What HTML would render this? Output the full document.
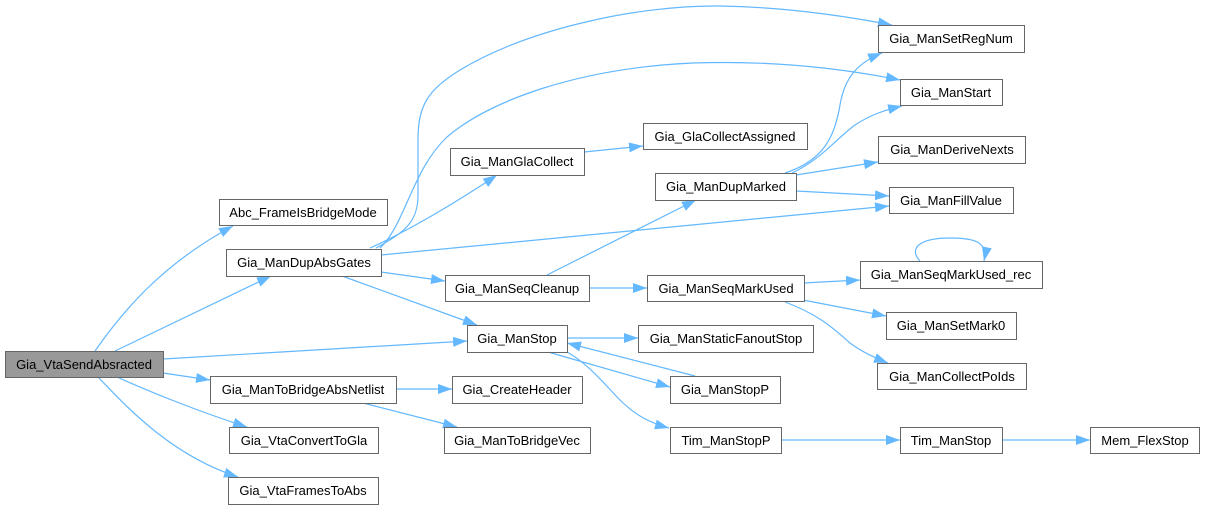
<!DOCTYPE html>
<html><head><meta charset="utf-8"><style>
html,body{margin:0;padding:0;background:#fff;}
svg{display:block;}
text{font-family:"Liberation Sans",Arial,sans-serif;font-size:13px;fill:#000;text-anchor:middle;}
.n{fill:#fff;stroke:#666;stroke-width:1;}
.r{fill:#999;stroke:#666;stroke-width:1;}
.e{fill:none;stroke:#63b8ff;stroke-width:1.2;marker-end:url(#a);}
</style></head><body>
<svg width="1205" height="509" viewBox="0 0 1205 509" xmlns="http://www.w3.org/2000/svg">
<defs>
<marker id="a" viewBox="0 0 14 10" refX="14" refY="5" markerWidth="14" markerHeight="10" markerUnits="userSpaceOnUse" orient="auto">
<path d="M0,0 L14,5 L0,10 z" fill="#63b8ff"/>
</marker>
</defs>
<!-- edges -->
<path class="e" d="M95,351 C120,315 160,265 233,226"/>
<path class="e" d="M115,351 L271,276"/>
<path class="e" d="M163,359 L467,341"/>
<path class="e" d="M163,373 L210,380"/>
<path class="e" d="M117,377 C150,392 200,412 247,427"/>
<path class="e" d="M98,377 C125,405 170,455 238,477"/>
<path class="e" d="M376,248 C405,232 418,222 418,195 L418,140 C418,105 428,90 460,70 C530,28 640,5 720,6 C780,7 840,15 892,25"/>
<path class="e" d="M380,248 C405,225 412,170 447,137 C490,100 580,68 693,63 C780,60 850,70 900,80"/>
<path class="e" d="M370,248 C410,230 460,200 497,175"/>
<path class="e" d="M381,255 L889,206"/>
<path class="e" d="M381,272 L445,281"/>
<path class="e" d="M342,276 L477,325"/>
<path class="e" d="M584,152 L643,146"/>
<path class="e" d="M547,275 L696,200"/>
<path class="e" d="M589,288 L647,288"/>
<path class="e" d="M785,173 C825,160 835,135 840,105 C845,75 860,62 882,53"/>
<path class="e" d="M792,173 C820,160 835,140 855,125 C870,115 885,110 902,106"/>
<path class="e" d="M796,175 L878,162"/>
<path class="e" d="M796,191 L889,196"/>
<path class="e" d="M803,283 L860,280"/>
<path class="e" d="M803,300 L886,316"/>
<path class="e" d="M785,302 C820,315 835,330 850,343 C862,352 875,358 888,363"/>
<path class="e" d="M567,338 L638,338"/>
<path class="e" d="M548,352 L670,387"/>
<path class="e" d="M695,376 L567,343"/>
<path class="e" d="M567,352 C590,365 605,385 620,400 C635,415 650,423 669,428"/>
<path class="e" d="M396,389 L452,389"/>
<path class="e" d="M363,403 L457,427"/>
<path class="e" d="M781,440 L900,440"/>
<path class="e" d="M1002,440 L1090,440"/>
<path class="e" d="M920,261 C908,248 920,238 950,238 C975,238 988,242 984,261"/>
<!-- nodes -->
<rect class="r" x="5.5" y="351.5" width="158" height="26"/><text x="84" y="369">Gia_VtaSendAbsracted</text>
<rect class="n" x="219.5" y="199.5" width="168" height="26"/><text x="303" y="217">Abc_FrameIsBridgeMode</text>
<rect class="n" x="226.5" y="249.5" width="155" height="27"/><text x="304" y="267">Gia_ManDupAbsGates</text>
<rect class="n" x="210.5" y="376.5" width="186" height="27"/><text x="303" y="394">Gia_ManToBridgeAbsNetlist</text>
<rect class="n" x="229.5" y="427.5" width="149" height="26"/><text x="304" y="445">Gia_VtaConvertToGla</text>
<rect class="n" x="228.5" y="477.5" width="150" height="27"/><text x="303" y="495">Gia_VtaFramesToAbs</text>
<rect class="n" x="450.5" y="148.5" width="134" height="27"/><text x="517" y="166">Gia_ManGlaCollect</text>
<rect class="n" x="643.5" y="123.5" width="164" height="26"/><text x="725" y="141">Gia_GlaCollectAssigned</text>
<rect class="n" x="655.5" y="173.5" width="141" height="27"/><text x="726" y="191">Gia_ManDupMarked</text>
<rect class="n" x="445.5" y="275.5" width="144" height="26"/><text x="517" y="293">Gia_ManSeqCleanup</text>
<rect class="n" x="647.5" y="275.5" width="157" height="26"/><text x="726" y="293">Gia_ManSeqMarkUsed</text>
<rect class="n" x="467.5" y="325.5" width="100" height="27"/><text x="517" y="343">Gia_ManStop</text>
<rect class="n" x="638.5" y="325.5" width="175" height="27"/><text x="726" y="343">Gia_ManStaticFanoutStop</text>
<rect class="n" x="452.5" y="376.5" width="130" height="27"/><text x="517" y="394">Gia_CreateHeader</text>
<rect class="n" x="670.5" y="376.5" width="110" height="27"/><text x="725" y="394">Gia_ManStopP</text>
<rect class="n" x="444.5" y="427.5" width="146" height="26"/><text x="517" y="445">Gia_ManToBridgeVec</text>
<rect class="n" x="670.5" y="427.5" width="111" height="26"/><text x="726" y="445">Tim_ManStopP</text>
<rect class="n" x="878.5" y="25.5" width="146" height="27"/><text x="951" y="43">Gia_ManSetRegNum</text>
<rect class="n" x="900.5" y="79.5" width="102" height="26"/><text x="951" y="97">Gia_ManStart</text>
<rect class="n" x="878.5" y="136.5" width="147" height="27"/><text x="952" y="154">Gia_ManDeriveNexts</text>
<rect class="n" x="889.5" y="187.5" width="124" height="26"/><text x="951" y="205">Gia_ManFillValue</text>
<rect class="n" x="860.5" y="261.5" width="182" height="27"/><text x="951" y="279">Gia_ManSeqMarkUsed_rec</text>
<rect class="n" x="886.5" y="312.5" width="130" height="27"/><text x="951" y="330">Gia_ManSetMark0</text>
<rect class="n" x="877.5" y="363.5" width="149" height="26"/><text x="952" y="381">Gia_ManCollectPoIds</text>
<rect class="n" x="900.5" y="427.5" width="102" height="26"/><text x="951" y="445">Tim_ManStop</text>
<rect class="n" x="1090.5" y="427.5" width="109" height="26"/><text x="1145" y="445">Mem_FlexStop</text>
</svg>
</body></html>
